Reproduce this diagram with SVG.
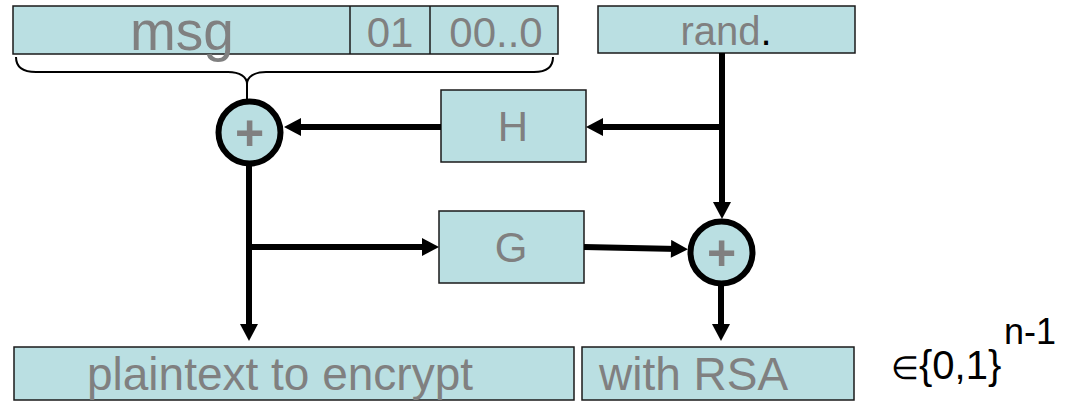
<svg xmlns="http://www.w3.org/2000/svg" width="1078" height="402" viewBox="0 0 1078 402">
<style>
.box{fill:#badfe2;stroke:#1a1a1a;stroke-width:1.5}
.lbl{font-family:"Liberation Sans",Arial,sans-serif;fill:#808080;text-anchor:middle}
.plus{font-family:"Liberation Sans",Arial,sans-serif;fill:#808080;text-anchor:middle;font-weight:bold;font-size:50px}
.xor{fill:#badfe2;stroke:#000;stroke-width:6}
.wire{stroke:#000;stroke-width:6;fill:none}
.brace{stroke:#000;stroke-width:2;fill:none}
.math{font-family:"Liberation Sans",Arial,sans-serif;fill:#000}
</style>
<defs>
<marker id="ah" markerUnits="userSpaceOnUse" markerWidth="18" markerHeight="18" viewBox="0 0 17 18" refX="7" refY="9" orient="auto">
<path d="M0,0 L17,9 L0,18 z" fill="#000"/>
</marker>
</defs>
<rect width="1078" height="402" fill="#fff"/>
<g id="msgbar">
<rect class="box" x="13" y="6" width="545" height="48"/>
<line x1="350" y1="6" x2="350" y2="54" stroke="#1a1a1a" stroke-width="1.5"/>
<line x1="430" y1="6" x2="430" y2="54" stroke="#1a1a1a" stroke-width="1.5"/>
<text class="lbl" x="182" y="50" font-size="55">msg</text>
<text class="lbl" x="390" y="47" font-size="42">01</text>
<text class="lbl" x="496" y="47" font-size="42">00..0</text>
</g>
<g id="rand">
<rect class="box" x="598" y="6" width="257" height="47"/>
<text class="lbl" x="726" y="45" font-size="40">rand<tspan fill="#000">.</tspan></text>
</g>
<g id="brace">
<path class="brace" d="M16,57 C16,67 22,72 36,72 L228,72 C240,72 247,77 247,84 C247,77 254,72 266,72 L534,72 C547,72 553,67 553,57 M247,84 L247,100"/>
</g>
<g id="H">
<rect class="box" x="441" y="90" width="145" height="72"/>
<text class="lbl" x="513" y="141" font-size="42">H</text>
</g>
<g id="G">
<rect class="box" x="439" y="211" width="145" height="72"/>
<text class="lbl" x="511" y="262" font-size="42">G</text>
</g>
<g id="xor1">
<circle class="xor" cx="249.5" cy="132.5" r="31"/>
<text class="plus" x="249.5" y="150">+</text>
</g>
<g id="xor2">
<circle class="xor" cx="721.5" cy="252.5" r="31"/>
<text class="plus" x="721.5" y="270">+</text>
</g>
<g id="plaintext">
<rect class="box" x="14" y="347" width="560" height="53"/>
<text class="lbl" x="280" y="390" font-size="46">plaintext to encrypt</text>
</g>
<g id="withrsa">
<rect class="box" x="582" y="347" width="272" height="53"/>
<text class="lbl" x="599" y="390" font-size="46" style="text-anchor:start">with RSA</text>
</g>
<g id="domain">
<text class="math" x="891" y="379" font-size="40"><tspan font-size="32">∈</tspan>{0,1}</text>
<text class="math" x="1004" y="344" font-size="36">n-1</text>
</g>
<g id="connectors">
<line class="wire" x1="722" y1="53" x2="722" y2="209" marker-end="url(#ah)"/>
<line class="wire" x1="725" y1="127" x2="596" y2="127" marker-end="url(#ah)"/>
<line class="wire" x1="441" y1="127" x2="294" y2="127" marker-end="url(#ah)"/>
<line class="wire" x1="249" y1="165" x2="249" y2="331" marker-end="url(#ah)"/>
<line class="wire" x1="246" y1="247" x2="429" y2="247" marker-end="url(#ah)"/>
<line class="wire" x1="584" y1="247" x2="678" y2="249" marker-end="url(#ah)"/>
<line class="wire" x1="721" y1="285" x2="721" y2="331" marker-end="url(#ah)"/>
</g>
</svg>
